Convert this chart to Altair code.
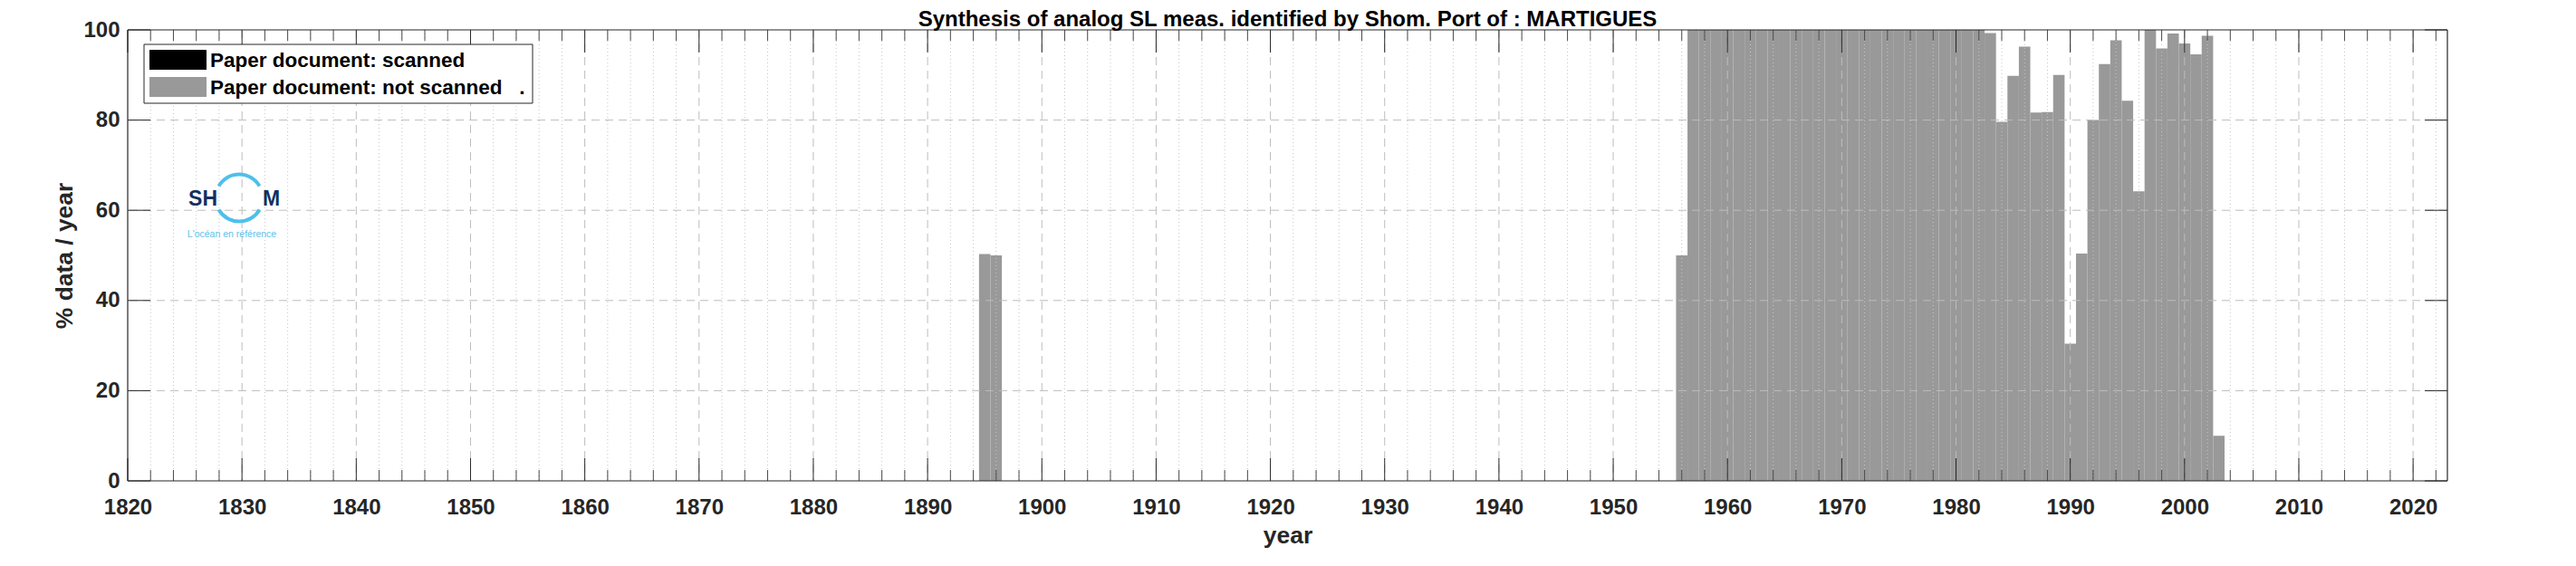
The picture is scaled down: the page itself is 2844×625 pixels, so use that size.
import altair as alt
import pandas as pd

# ---------------- data ----------------
years = [1895, 1896, 1956,
         1957, 1958, 1959, 1960, 1961, 1962, 1963, 1964, 1965, 1966,
         1967, 1968, 1969, 1970, 1971, 1972, 1973, 1974, 1975, 1976,
         1977, 1978, 1979, 1980, 1981, 1982,
         1983, 1984, 1985, 1986, 1987, 1988, 1989, 1990, 1991, 1992,
         1993, 1994, 1995, 1996, 1997, 1998, 1999, 2000, 2001, 2002, 2003]
pct_not_scanned = [50.3, 50.0, 50.0,
                   100, 100, 100, 100, 100, 100, 100, 100, 100, 100,
                   100, 100, 100, 100, 100, 100, 100, 100, 100, 100,
                   100, 100, 100, 100, 100, 100,
                   99.3, 79.6, 89.8, 96.3, 81.7, 81.8, 90.0, 30.4, 50.4, 80.0,
                   92.4, 97.7, 84.3, 64.2, 100.0, 95.9, 99.2, 97.0, 94.6, 98.7, 10.0]
series_names = ["Paper document: scanned", "Paper document: not scanned\u00a0\u00a0\u00a0."]
series_colors = ["#000000", "#999999"]
x_major = list(range(1820, 2021, 10))
x_minor = [y for y in range(1822, 2023, 2) if y % 10 != 0]
y_ticks = [0, 20, 40, 60, 80, 100]
y_grid = [20, 40, 60, 80]
title_text = "Synthesis of analog SL meas. identified by Shom. Port of : MARTIGUES"
x_title = "year"
y_title = "% data / year"
logo_left, logo_right, logo_tag = "SH", "M", "L'océan en référence"

# ---------------- layout / style ----------------
W, H = 2561, 498
FONT = "Liberation Sans"
TXT = "#262626"
MAJ_T, MIN_T = 25, 12

xscale = alt.Scale(domain=[1820, 2023], nice=False, zero=False)
yscale = alt.Scale(domain=[0, 100], nice=False, zero=True)

XAXIS = alt.Axis(values=x_major, format="d", title=x_title, grid=False, ticks=False,
                 domain=False, labelFlush=False, labelOverlap=False,
                 labelFont=FONT, labelFontSize=24, labelFontWeight="bold", labelColor=TXT,
                 labelPadding=17, titleFont=FONT, titleFontSize=26.4, titleFontWeight="bold",
                 titleColor=TXT, titlePadding=6)
YAXIS = alt.Axis(values=y_ticks, format="d", title=y_title, grid=False, ticks=False,
                 domain=False, labelFlush=False, labelOverlap=False,
                 labelFont=FONT, labelFontSize=24, labelFontWeight="bold", labelColor=TXT,
                 labelPadding=9, titleFont=FONT, titleFontSize=26.4, titleFontWeight="bold",
                 titleColor=TXT, titlePadding=6)

one = pd.DataFrame({"k": [0]})
bars_df = pd.DataFrame({"year": years, "pct": pct_not_scanned})
maj_df = pd.DataFrame({"year": x_major})
min_df = pd.DataFrame({"year": x_minor})
ytk_df = pd.DataFrame({"v": y_ticks})
ygr_df = pd.DataFrame({"v": y_grid})


def X(field):
    return alt.X(field, scale=xscale, axis=XAXIS, title=x_title)


def Y(field):
    return alt.Y(field, scale=yscale, axis=YAXIS, title=y_title)


# grid lines (below bars)
minor_grid = alt.Chart(min_df).mark_rule(color="#c6c6c6", strokeWidth=1, strokeDash=[1, 3]).encode(
    x=X("year:Q"))
major_grid = alt.Chart(maj_df[maj_df.year > 1820]).mark_rule(color="#bdbdbd", strokeWidth=1,
                                                             strokeDash=[9, 6]).encode(x=X("year:Q"))
h_grid = alt.Chart(ygr_df).mark_rule(color="#bdbdbd", strokeWidth=1, strokeDash=[9, 6]).encode(
    y=Y("v:Q"))

# bars
bars = alt.Chart(bars_df).transform_calculate(
    x0="datum.year - 0.5", x1="datum.year + 0.5"
).mark_rect(color=series_colors[1]).encode(
    x=X("x0:Q"),
    x2="x1:Q",
    y=Y("pct:Q"),
    y2=alt.datum(0),
)


# inward tick marks (drawn over bars)
def xticks(df, length, color, top):
    if top:
        yy, yy2 = alt.value(0), alt.value(length)
    else:
        yy, yy2 = alt.value(H), alt.value(H - length)
    return alt.Chart(df).mark_rule(color=color, strokeWidth=1).encode(x=X("year:Q"), y=yy, y2=yy2)


tick_layers = [
    xticks(maj_df, MAJ_T, TXT, False), xticks(maj_df, MAJ_T, TXT, True),
    xticks(min_df, MIN_T, "#4a4a4a", False), xticks(min_df, MIN_T, "#4a4a4a", True),
    alt.Chart(ytk_df).mark_rule(color=TXT, strokeWidth=1).encode(
        y=Y("v:Q"), x=alt.value(0), x2=alt.value(MAJ_T)),
    alt.Chart(ytk_df).mark_rule(color=TXT, strokeWidth=1).encode(
        y=Y("v:Q"), x=alt.value(W - MAJ_T), x2=alt.value(W)),
]

# frame
frame = [
    alt.Chart(one).mark_rule(color=TXT, strokeWidth=1.2).encode(x=alt.value(0), x2=alt.value(W), y=alt.value(0)),
    alt.Chart(one).mark_rule(color=TXT, strokeWidth=1.2).encode(x=alt.value(0), x2=alt.value(W), y=alt.value(H)),
    alt.Chart(one).mark_rule(color=TXT, strokeWidth=1.2).encode(x=alt.value(0), y=alt.value(0), y2=alt.value(H)),
    alt.Chart(one).mark_rule(color=TXT, strokeWidth=1.2).encode(x=alt.value(W), y=alt.value(0), y2=alt.value(H)),
]

# legend
legend = [
    alt.Chart(one).mark_rect(fill="white", stroke=TXT, strokeWidth=1).encode(
        x=alt.value(18), x2=alt.value(447), y=alt.value(16), y2=alt.value(81)),
    alt.Chart(one).mark_rect(fill=series_colors[0]).encode(
        x=alt.value(24), x2=alt.value(87), y=alt.value(22), y2=alt.value(44)),
    alt.Chart(one).mark_rect(fill=series_colors[1]).encode(
        x=alt.value(24), x2=alt.value(87), y=alt.value(52), y2=alt.value(74)),
    alt.Chart(one).mark_text(align="left", baseline="middle", font=FONT, fontSize=22.5,
                             fontWeight="bold", color="black").encode(
        x=alt.value(91), y=alt.value(34), text=alt.value(series_names[0])),
    alt.Chart(one).mark_text(align="left", baseline="middle", font=FONT, fontSize=22.5,
                             fontWeight="bold", color="black").encode(
        x=alt.value(91), y=alt.value(64), text=alt.value(series_names[1])),
]

# SHOM logo
LX, LY = 123, 185.5
logo = [
    alt.Chart(one).mark_arc(color="#4ec0ea").encode(
        x=alt.value(LX), y=alt.value(LY), theta=alt.value(5.24), theta2=alt.value(7.33),
        radius=alt.value(28), radius2=alt.value(24)),
    alt.Chart(one).mark_arc(color="#4ec0ea").encode(
        x=alt.value(LX), y=alt.value(LY), theta=alt.value(2.09), theta2=alt.value(4.19),
        radius=alt.value(28), radius2=alt.value(24)),
    alt.Chart(one).mark_text(align="right", baseline="alphabetic", font=FONT, fontSize=23,
                             fontWeight="bold", color="#12305f").encode(
        x=alt.value(99), y=alt.value(194), text=alt.value(logo_left)),
    alt.Chart(one).mark_text(align="left", baseline="alphabetic", font=FONT, fontSize=23,
                             fontWeight="bold", color="#12305f").encode(
        x=alt.value(149), y=alt.value(194), text=alt.value(logo_right)),
    alt.Chart(one).mark_text(align="center", baseline="alphabetic", font=FONT, fontSize=10.5,
                             color="#5cc3ea").encode(
        x=alt.value(115), y=alt.value(229), text=alt.value(logo_tag)),
]

title = alt.Chart(one).mark_text(align="center", baseline="alphabetic", font=FONT, fontSize=24,
                                 fontWeight="bold", color="black").encode(
    x=alt.value(W / 2), y=alt.value(-4.5), text=alt.value(title_text))

chart = alt.layer(
    bars, minor_grid, major_grid, h_grid, *tick_layers, *frame, *legend, *logo, title
).properties(
    width=W, height=H,
    autosize=alt.AutoSizeParams(type="none"),
    padding={"left": 133, "top": 25, "right": 130, "bottom": 78},
    background="white",
).configure_view(strokeWidth=0)

chart.save("out.html", embed_options={"renderer": "svg", "actions": False})
